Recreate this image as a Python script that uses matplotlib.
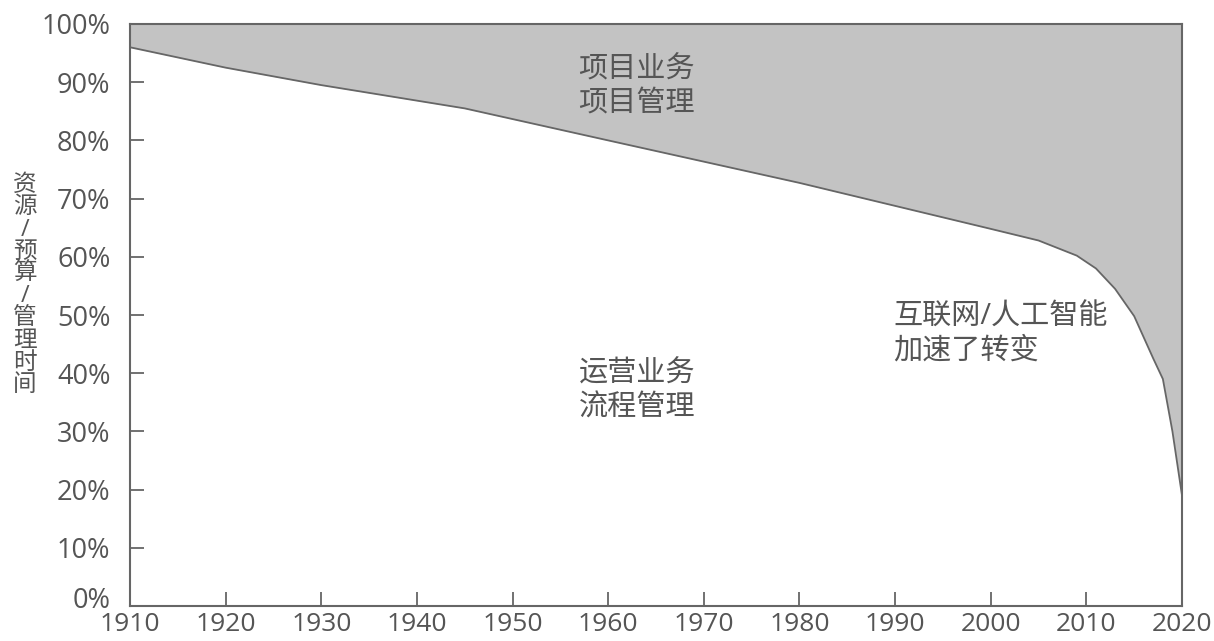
import matplotlib.pyplot as plt
import matplotlib.transforms as mtransforms
from matplotlib.ticker import PercentFormatter

plt.rcParams['font.family'] = ['Open Sans', 'Noto Sans CJK SC', 'DejaVu Sans']

# share of operations (process) work, the rest up to 100% is project work
years = [1910, 1920, 1930, 1945, 1960, 1980, 2000, 2005, 2009, 2011, 2013, 2015, 2017, 2018, 2019, 2020]
ops_share = [96, 92.5, 89.5, 85.5, 80, 72.7, 64.8, 62.8, 60.2, 58.0, 54.5, 49.8, 42.5, 39.0, 30.0, 19.0]

top_label = '项目业务\n项目管理'
bottom_label = '运营业务\n流程管理'
side_label = '互联网/人工智能\n加速了转变'
ylabel = '资源/预算/管理时间'

grey_text = '#555555'
edge = '#666666'

fig = plt.figure(figsize=(12.14, 6.41), dpi=100)
ax = fig.add_axes([130/1214, 1 - 606/641, (1182-130)/1214, (606-24)/641])

ax.fill_between(years, ops_share, 100, color='#c3c3c3', lw=0)
ax.plot(years, ops_share, color=edge, lw=1.3)

ax.set_xlim(1910, 2020)
ax.set_ylim(0, 100)
ax.set_xticks(range(1910, 2021, 10))
ax.set_yticks(range(0, 101, 10))
ax.yaxis.set_major_formatter(PercentFormatter(decimals=0))
ax.tick_params(direction='in', length=10, width=1.3, color=edge, labelcolor=grey_text)
ax.tick_params(axis='y', labelsize=19.5, pad=14)
ax.tick_params(axis='x', labelsize=19, pad=4)
for s in ax.spines.values():
    s.set_color(edge)
    s.set_linewidth(1.5)

# lift the 0% label a bit so it clears the 1910 label
zero_lbl = ax.get_yticklabels()[0]
zero_lbl.set_transform(zero_lbl.get_transform() +
                       mtransforms.ScaledTranslation(0, 6/72, fig.dpi_scale_trans))

ax.text(1963, 89.2, top_label, fontsize=21, color=grey_text, ha='center', va='center',
        linespacing=1.2)
ax.text(1963, 36.9, bottom_label, fontsize=21, color=grey_text, ha='center', va='center',
        linespacing=1.2)
ax.text(1989.8, 46.7, side_label, fontsize=21, color=grey_text, ha='left', va='center',
        linespacing=1.2)

fig.text(25/1214, 1 - 285/641, '\n'.join(ylabel), fontsize=17, color=grey_text,
         ha='center', va='center', linespacing=0.9)

fig.savefig('out.png', dpi=100, facecolor='white')
